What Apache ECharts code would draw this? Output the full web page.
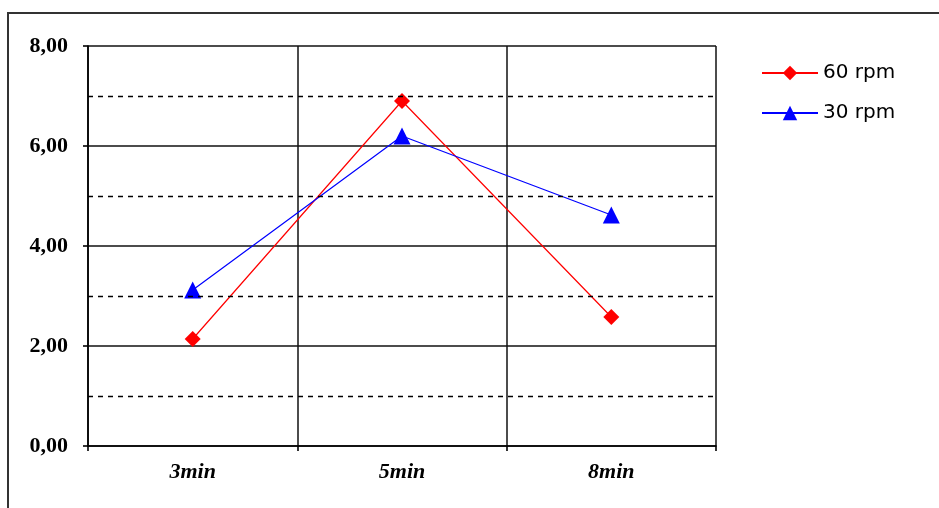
<!DOCTYPE html>
<html>
<head>
<meta charset="utf-8">
<script src="https://cdn.jsdelivr.net/npm/echarts@6/dist/echarts.min.js"></script>
<style>
  html, body { margin: 0; padding: 0; background: #fff; }
  #chart { width: 939px; height: 508px; }
</style>
</head>
<body>
<div id="chart"></div>
<script>
// Mixing times on the category axis
const categories = ['3min', '5min', '8min'];
// Measured values per stirring speed
const rpm60 = [2.14, 6.9, 2.58];
const rpm30 = [3.12, 6.2, 4.62];
const seriesNames = ['60 rpm', '30 rpm'];
// Dashed minor gridlines between the labelled ticks
const minorLines = [1, 3, 5, 7];

const chart = echarts.init(document.getElementById('chart'), null, { renderer: 'canvas' });

chart.setOption({
  backgroundColor: '#ffffff',
  animation: false,
  graphic: [{
    type: 'rect',
    shape: { x: 8, y: 13, width: 960, height: 520 },
    style: { fill: 'none', stroke: '#333333', lineWidth: 2 },
    silent: true,
    z: -1
  }],
  grid: { left: 88, top: 46, right: 223, bottom: 62, containLabel: false },
  legend: {
    left: 756, top: 58,
    orient: 'vertical',
    itemGap: 20,
    itemWidth: 56,
    itemHeight: 18,
    textStyle: { fontFamily: 'DejaVu Sans', fontSize: 20, lineHeight: 20, color: '#000' },
    data: seriesNames
  },
  xAxis: {
    type: 'category',
    data: categories,
    boundaryGap: true,
    axisLine: { lineStyle: { color: '#000', width: 1.6 } },
    axisTick: { show: true, length: 5, lineStyle: { color: '#000', width: 1.6 } },
    splitLine: { show: true, lineStyle: { color: '#111', width: 1.5 } },
    axisLabel: {
      margin: 15,
      fontFamily: 'Liberation Serif', fontWeight: 'bold', fontStyle: 'italic',
      fontSize: 22, color: '#000'
    }
  },
  yAxis: {
    type: 'value',
    min: 0, max: 8, interval: 2,
    axisLine: { show: true, lineStyle: { color: '#000', width: 1.6 } },
    axisTick: { show: true, length: 5, lineStyle: { color: '#000', width: 1.6 } },
    splitLine: { show: true, lineStyle: { color: '#111', width: 1.5 } },
    axisLabel: {
      margin: 20,
      fontFamily: 'Liberation Serif', fontWeight: 'bold', fontSize: 22, color: '#000',
      formatter: v => v.toFixed(2).replace('.', ',')
    }
  },
  series: [
    {
      name: seriesNames[0],
      type: 'line',
      data: rpm60,
      symbol: 'diamond',
      symbolSize: 16,
      color: '#ff0000',
      lineStyle: { width: 1.2, color: '#ff0000' },
      itemStyle: { color: '#ff0000' },
      z: 3,
      markLine: {
        silent: true,
        symbol: 'none',
        label: { show: false },
        lineStyle: { color: '#000', type: [5, 5], width: 1.3 },
        data: minorLines.map(v => ({ yAxis: v }))
      }
    },
    {
      name: seriesNames[1],
      type: 'line',
      data: rpm30,
      symbol: 'triangle',
      symbolSize: 17,
      color: '#0000ff',
      lineStyle: { width: 1.2, color: '#0000ff' },
      itemStyle: { color: '#0000ff' },
      z: 4
    }
  ]
});
</script>
</body>
</html>
